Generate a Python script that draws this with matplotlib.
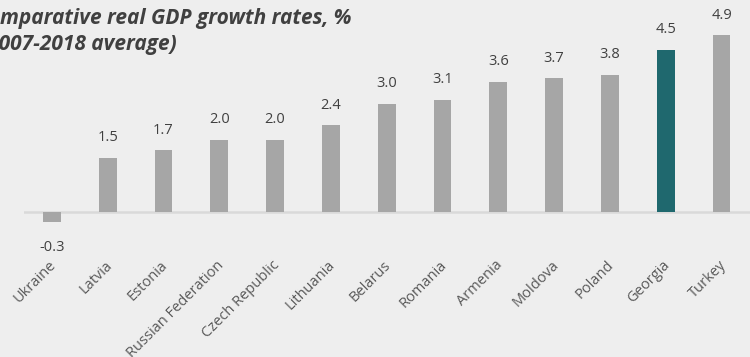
import matplotlib.pyplot as plt
import matplotlib.transforms as mtransforms

countries = ['Ukraine', 'Latvia', 'Estonia', 'Russian Federation', 'Czech Republic',
             'Lithuania', 'Belarus', 'Romania', 'Armenia', 'Moldova', 'Poland',
             'Georgia', 'Turkey']
growth = [-0.3, 1.5, 1.7, 2.0, 2.0, 2.4, 3.0, 3.1, 3.6, 3.7, 3.8, 4.5, 4.9]
highlight = 'Georgia'

W, H = 750, 357
fig = plt.figure(figsize=(W / 100, H / 100), dpi=100)
fig.patch.set_facecolor('#eeeeee')

# axes placement in pixels
left, right, top, bottom = 24, 750, 0, 230
ax = fig.add_axes([left / W, 1 - bottom / H, (right - left) / W, (bottom - top) / H])
ax.set_facecolor('none')

px_per_unit = 36.0
base = 211.5
ax.set_xlim(-0.5, 12.51)
ax.set_ylim(-(bottom - base) / px_per_unit, (base - top) / px_per_unit)

x = list(range(len(countries)))
colors = ['#1f686e' if c == highlight else '#a6a6a6' for c in countries]
ax.bar(x, growth, width=0.32, color=colors, zorder=3)
ax.axhline(0, color='#d9d9d9', lw=1.8, zorder=2)

for xi, v in zip(x, growth):
    off = 20 if v >= 0 else -25
    ax.annotate(f'{v:.1f}', (xi, v), xytext=(0, off), textcoords='offset pixels',
                ha='center', va='center', fontsize=10.5, color='#404040',
                family='Open Sans')

for s in ax.spines.values():
    s.set_visible(False)
ax.set_yticks([])
ax.set_xticks(x)
ax.set_xticklabels(countries, fontsize=10.5, color='#595959', family='Open Sans')
ax.tick_params(axis='x', length=0, pad=20)
shift = mtransforms.ScaledTranslation(-3 / 100, 0, fig.dpi_scale_trans)
for lab in ax.get_xticklabels():
    lab.set_rotation(45)
    lab.set_ha('right')
    lab.set_rotation_mode('anchor')
    lab.set_transform(lab.get_transform() + shift)

title_kw = dict(fontsize=15, fontweight='bold', style='italic', color='#404040',
                family='Open Sans', va='baseline', ha='left')
fig.text(-25 / W, 1 - 24 / H, 'Comparative real GDP growth rates, %', **title_kw)
fig.text(-20 / W, 1 - 50 / H, '(2007-2018 average)', **title_kw)

fig.savefig('out.png', dpi=100, facecolor=fig.get_facecolor())
